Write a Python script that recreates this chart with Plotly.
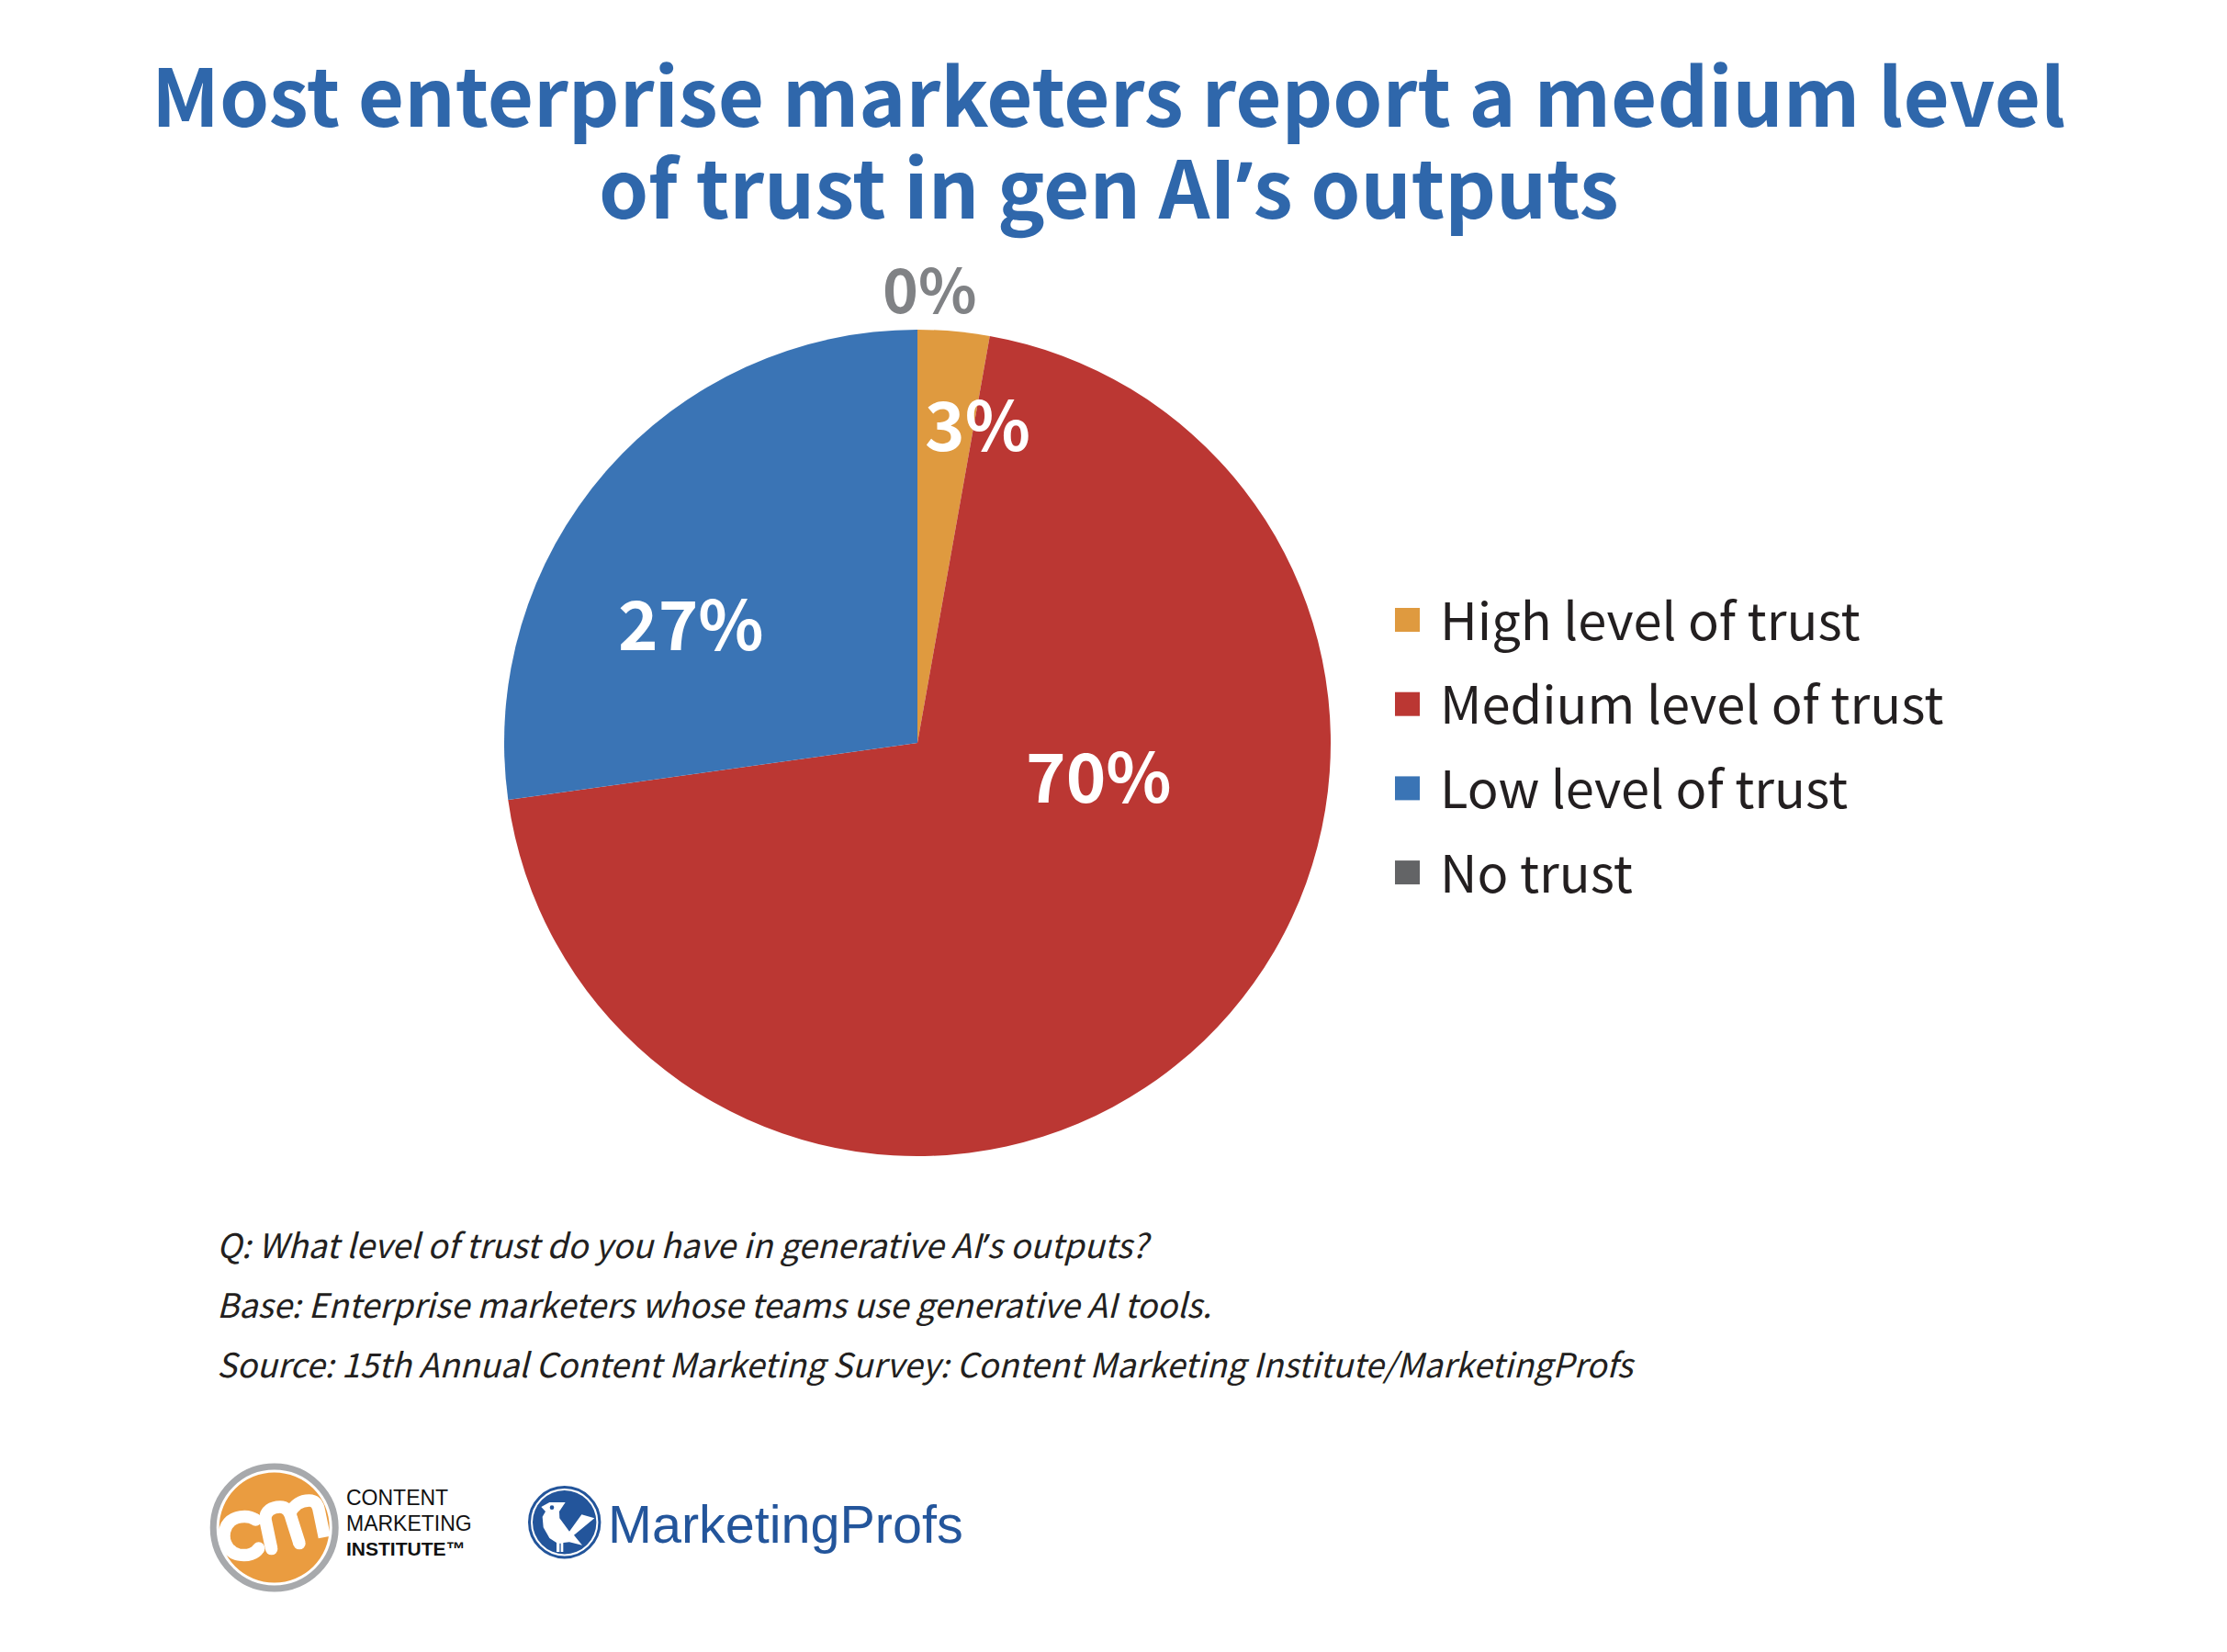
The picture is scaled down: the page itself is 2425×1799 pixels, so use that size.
import plotly.graph_objects as go

W = 2425
H = 1799

APOS = '<span style="font-family:Noto Sans">’</span>'

categories = ["High level of trust", "Medium level of trust", "Low level of trust", "No trust"]
values = [2.8, 70.0, 27.2, 0]
value_labels = ["3%", "70%", "27%", "0%"]
colors = ["#df9a3f", "#bb3733", "#3a74b5", "#636466"]
title_lines = ["Most enterprise marketers report a medium level", f"of trust in gen AI{APOS}s outputs"]
notes = [
    f"Q: What level of trust do you have in generative AI{APOS}s outputs?",
    "Base: Enterprise marketers whose teams use generative AI tools.",
    "Source: 15th Annual Content Marketing Survey: Content Marketing Institute/MarketingProfs",
]

FONT = "Noto Sans CJK SC"
LOGO_FONT = "Liberation Sans"
PROFS_BLUE = "#23559b"


def px(x):
    return x / W


def py(y):
    return 1 - y / H


def label(x, y, text, size, color, family=FONT, xanchor="left", textangle=0, **font_kw):
    return dict(x=px(x), y=py(y), xref="paper", yref="paper", text=text, showarrow=False,
                xanchor=xanchor, yanchor="middle", borderpad=0, textangle=textangle,
                font=dict(family=family, size=size, color=color, **font_kw))


def disc(cx, cy, r, fill, line=None, width=0):
    return dict(type="circle", xref="paper", yref="paper",
                x0=px(cx - r), x1=px(cx + r), y0=py(cy + r), y1=py(cy - r),
                fillcolor=fill, line=dict(color=line or fill, width=width))


def to_local(x, y, ox, oy):
    return px(ox + x / 3), py(oy + y / 3)


def poly(points, fill, ox, oy):
    pts = [to_local(a, b, ox, oy) for a, b in points]
    d = "M" + "L".join(f"{a:.5f},{b:.5f}" for a, b in pts) + "Z"
    return dict(type="path", xref="paper", yref="paper", path=d, fillcolor=fill, line=dict(width=0))


def stroke(start, curves, color, width, ox, oy):
    # curves is a list of 3 point cubic segments, 1 point means a straight piece
    a, b = to_local(*start, ox, oy)
    d = f"M{a:.5f},{b:.5f}"
    for seg in curves:
        pts = [to_local(p[0], p[1], ox, oy) for p in seg]
        cmd = "C" if len(pts) == 3 else "L"
        d += cmd + " ".join(f"{p[0]:.5f},{p[1]:.5f}" for p in pts)
    return dict(type="path", xref="paper", yref="paper", path=d,
                fillcolor="rgba(0,0,0,0)", line=dict(color=color, width=width))


# pie sits in a fixed box
cx, cy, r = 999, 809, 450
fig = go.Figure(go.Pie(
    labels=categories, values=values, sort=False, direction="clockwise", rotation=0,
    marker=dict(colors=colors, line=dict(width=0)),
    textinfo="none", hoverinfo="label+percent", showlegend=False,
    domain=dict(x=[px(cx - r), px(cx + r)], y=[py(cy + r), py(cy - r)]),
))

annotations = []
shapes = []

# title
annotations.append(label(1207, 100, title_lines[0], 86.7, "#2f67ab", xanchor="center", weight=700))
annotations.append(label(1207, 200, title_lines[1], 86.7, "#2f67ab", xanchor="center", weight=700))

# value labels
label_spots = [(1064, 459), (1196, 841), (752, 675), (1012, 312)]
label_colors = ["white", "white", "white", "#808285"]
label_sizes = [74, 74, 74, 66]
for t, (x, y), c, s in zip(value_labels, label_spots, label_colors, label_sizes):
    annotations.append(label(x, y, t, s, c, xanchor="center", weight=700))

# legend
for i, (name, c) in enumerate(zip(categories, colors)):
    y = 675 + i * 91.7
    shapes.append(dict(type="rect", xref="paper", yref="paper", x0=px(1519), x1=px(1546),
                       y0=py(y + 13), y1=py(y - 13), fillcolor=c, line=dict(width=0)))
    annotations.append(label(1567, y - 3, name, 56, "#231f20"))

# notes
for i, line in enumerate(notes):
    annotations.append(label(235, 1354 + i * 65, line, 36.4, "#231f20", style="italic"))

# content marketing institute logo
CM_X, CM_Y = 225, 1590
shapes.append(disc(298.7, 1663.5, 66.5, "white", "#a7a9ac", 7))
shapes.append(disc(298.7, 1663.5, 60, "#ea9c40"))
c_curve = [[(135, 178), (85, 180), (65, 215)], [(45, 255), (65, 300), (105, 309)], [(135, 315), (160, 305), (170, 288)]]
m_first = [[(192, 195)], [(190, 165), (215, 153), (240, 153)], [(262, 153), (272, 170), (277, 190)], [(303, 272)]]
m_second = [[(285, 145), (310, 132), (335, 132)], [(358, 132), (365, 150), (368, 170)], [(385, 252)]]
shapes.append(stroke((160, 195), c_curve, "white", 13.5, CM_X, CM_Y))
shapes.append(stroke((212, 290), m_first, "white", 13.5, CM_X, CM_Y))
shapes.append(stroke((272, 175), m_second, "white", 13.5, CM_X, CM_Y))
for ex, ey in [(160, 195), (170, 288), (212, 290), (303, 272)]:
    shapes.append(disc(CM_X + ex / 3, CM_Y + ey / 3, 6.7, "white"))
for y, t, wt, s in zip([1631, 1659, 1686], ["CONTENT", "MARKETING", "INSTITUTE™"], [400, 400, 700], [23, 23, 21]):
    annotations.append(label(376, y, t, s, "#111111", family=LOGO_FONT, weight=wt))

# marketingprofs logo
MP_X, MP_Y = 570, 1610
shapes.append(disc(614.7, 1657.7, 38.2, "white", PROFS_BLUE, 3))
shapes.append(disc(614.7, 1657.7, 34.7, PROFS_BLUE))
bird = [(58, 93), (85, 78), (137, 78), (117, 108), (118, 130), (150, 173), (190, 118), (232, 130),
        (165, 185), (192, 218), (150, 208), (130, 210), (130, 240), (122, 240), (122, 212), (118, 212),
        (118, 240), (108, 240), (108, 210), (85, 195), (65, 160), (62, 125), (72, 108)]
shapes.append(poly(bird, "white", MP_X, MP_Y))
shapes.append(disc(MP_X + 93 / 3, MP_Y + 95 / 3, 2.3, PROFS_BLUE))
annotations.append(label(661, 1660, "MarketingProfs", 57.5, PROFS_BLUE, family=LOGO_FONT))

fig.update_layout(
    width=W, height=H, margin=dict(l=0, r=0, t=0, b=0),
    paper_bgcolor="white", annotations=annotations, shapes=shapes,
)

fig.write_html("out.html", config={"displayModeBar": False}, post_script="document.body.style.margin='0';")
